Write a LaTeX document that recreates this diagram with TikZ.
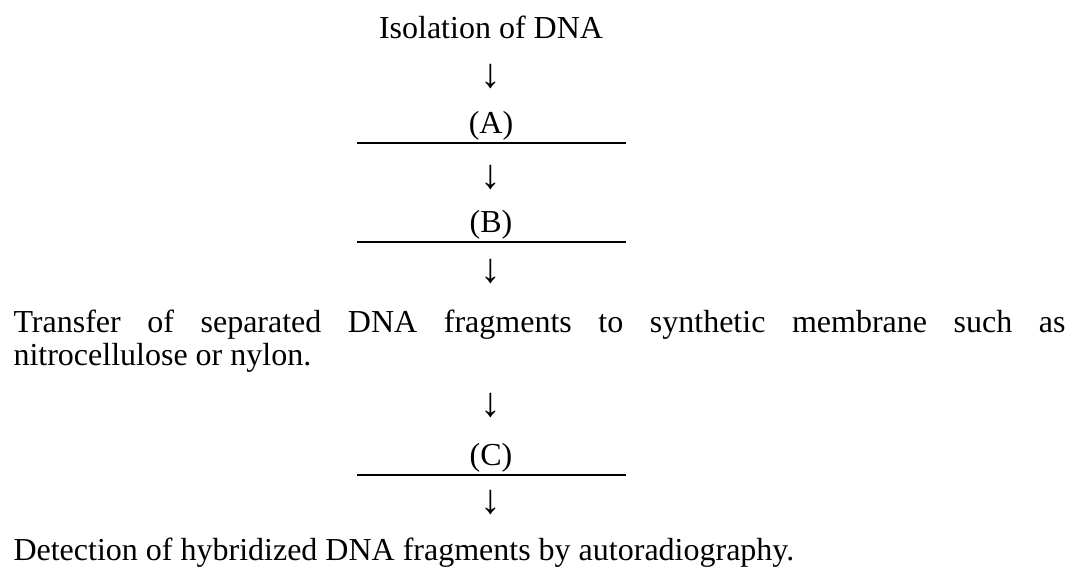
\documentclass[tikz,border=0pt]{standalone}
\usepackage{fontspec}
\setmainfont{Liberation Serif}
\usetikzlibrary{positioning}

\begin{document}
\begin{tikzpicture}[x=0.375pt, y=-0.375pt,
    every node/.style={inner sep=0pt, font=\fontsize{12}{12.4}\selectfont},
    steplabel/.style={anchor=base},
    arrowsym/.style={anchor=center, font=\fontsize{15.5}{16}\selectfont},
    blankrule/.style={line width=0.55pt}]
            \useasboundingbox (0,0) rectangle (1069,572);

            % Start
            \node[steplabel] (Isol) at (491,38) {Isolation of DNA};
            \node[arrowsym] (ArrA) at (491,76.5) {↓};

            % Blank step (A)
            \node[steplabel] (A) at (491,133) {(A)};
            \draw[blankrule] (357,143) -- (626,143);
            \node[arrowsym] (ArrB) at (491,177) {↓};

            % Blank step (B)
            \node[steplabel] (B) at (491,232) {(B)};
            \draw[blankrule] (357,242) -- (626,242);
            \node[arrowsym] (ArrT) at (491,271) {↓};

            % Transfer
            \node[anchor=base west, text width=394.5pt, align=justify,
                  execute at begin node={\tolerance=10000\hyphenpenalty=10000}]
                (Transfer) at (13,332)
                {Transfer of separated DNA fragments to synthetic membrane such as\linebreak nitrocellulose or nylon.};
            \node[arrowsym] (ArrC) at (491,405) {↓};

            % Blank step (C)
            \node[steplabel] (C) at (491,465) {(C)};
            \draw[blankrule] (357,475) -- (626,475);
            \node[arrowsym] (ArrD) at (491,502) {↓};

            % End
            \node[anchor=base west] (Detect) at (13,560)
                {Detection of hybridized DNA fragments by autoradiography.};
        \end{tikzpicture}
\end{document}
